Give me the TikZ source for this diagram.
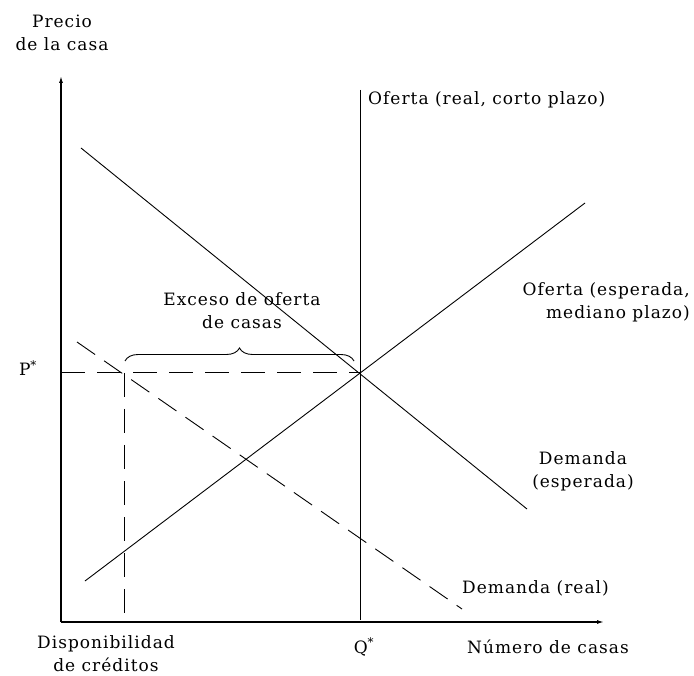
\documentclass[tikz,border=0pt]{standalone}
\usepackage{fontspec}
\setmainfont{DejaVu Serif}[LetterSpace=6]
\usetikzlibrary{arrows.meta,decorations.pathreplacing}
\begin{document}
\begin{tikzpicture}[x=1pt, y=-1pt, font=\fontsize{17}{23}\selectfont,
  axis/.style = {line width=1.3pt, -{Latex[length=7pt,width=4pt]}},
  curve/.style = {line width=0.9pt},
  guide/.style = {line width=1pt, dash pattern=on 24pt off 12pt},
  lbl/.style = {inner sep=0pt, align=center}]
\useasboundingbox (0,0) rectangle (694,676);

\coordinate (O) at (61,622);
\coordinate (ytop) at (61,76);
\coordinate (xend) at (604,622);
\coordinate (E) at (360,373);
\coordinate (Pst) at (61,373);
\coordinate (cred) at (124,373);
\coordinate (credb) at (124,622);
\coordinate (Sr1) at (360,90);
\coordinate (Sr2) at (360,620);
\coordinate (Se1) at (85,581);
\coordinate (Se2) at (585,203);
\coordinate (De1) at (81,148);
\coordinate (De2) at (527,509);
\coordinate (Dr1) at (77,342);
\coordinate (Dr2) at (462,609);

\draw[axis] (O) -- (ytop);
\draw[axis] (O) -- (xend);

\draw[guide] (Pst) -- (E);
\draw[guide] (cred) -- (credb);

\draw[curve] (Sr1) -- (Sr2);
\draw[curve] (Se1) -- (Se2);
\draw[curve] (De1) -- (De2);
\draw[curve, dash pattern=on 22pt off 11pt] (Dr1) -- (Dr2);

\draw[line width=0.9pt, decorate, decoration={brace, amplitude=13pt}] (125,361) -- (354,361);

\node[lbl] (ylab) at (62,33) {Precio\\de la casa};
\node[lbl, anchor=west] (sreal) at (368,100) {Oferta (real, corto plazo)};
\node[lbl, align=right, anchor=east] (sesp) at (690,302) {Oferta (esperada,\\mediano plazo)};
\node[lbl] (exceso) at (242,311) {Exceso de oferta\\de casas};
\node[lbl] (pst) at (28,368) {P\textsuperscript{*}};
\node[lbl] (desp) at (583,471) {Demanda\\(esperada)};
\node[lbl, anchor=west] (dreal) at (462,588) {Demanda (real)};
\node[lbl] (disp) at (106,654) {Disponibilidad\\de créditos};
\node[lbl] (qst) at (364,647) {Q\textsuperscript{*}};
\node[lbl, anchor=west] (xlab) at (467,647) {Número de casas};
\end{tikzpicture}
\end{document}
